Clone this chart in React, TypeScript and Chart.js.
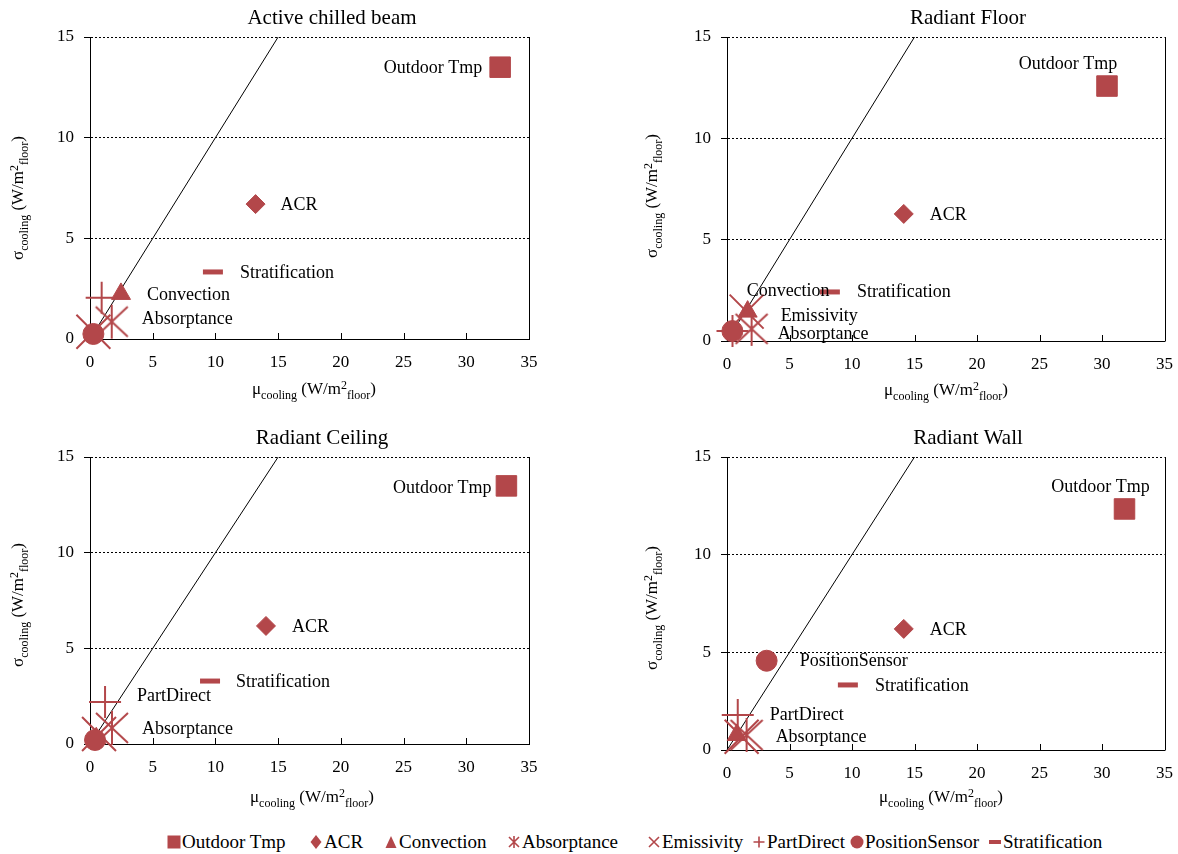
import React, { useEffect, useRef } from 'react';
import { Chart, registerables } from 'chart.js';

Chart.register(...registerables);

// ---------------- DATA ----------------
const seriesNames = ['Outdoor Tmp', 'ACR', 'Convection', 'Absorptance', 'Emissivity', 'PartDirect', 'PositionSensor', 'Stratification'];
const panelTitles = ['Active chilled beam', 'Radiant Floor', 'Radiant Ceiling', 'Radiant Wall'];

// mu_cooling (x) and sigma_cooling (y), in the order of seriesNames
const muActiveBeam = [32.7, 13.2, 2.47, 1.73, 0.27, 0.93, 0.27, 9.8];
const sigmaActiveBeam = [13.5, 6.7, 2.24, 0.86, 0.36, 2.05, 0.25, 3.33];

const muRadiantFloor = [30.4, 14.14, 1.65, 1.97, 1.57, 0.44, 0.43, 8.23];
const sigmaRadiantFloor = [12.58, 6.27, 1.45, 0.6, 1.45, 0.49, 0.49, 2.42];

const muRadiantCeiling = [33.2, 14.03, 0.5, 1.75, 0.72, 1.2, 0.4, 9.57];
const sigmaRadiantCeiling = [13.49, 6.17, 0.3, 0.84, 0.52, 2.2, 0.21, 3.29];

const muRadiantWall = [31.8, 14.14, 0.78, 1.57, 1.17, 0.86, 3.17, 9.67];
const sigmaRadiantWall = [12.34, 6.2, 0.77, 0.77, 0.68, 1.79, 4.57, 3.33];

// reference line sigma = mu
const refLineMu = [0, 15];
const refLineSigma = [0, 15];

const xAxisMin = 0;
const xAxisMax = 35;
const xAxisStep = 5;
const yAxisMin = 0;
const yAxisMax = 15;
const yAxisStep = 5;

// ---------------- STYLE ----------------
const MARKER = '#B3474A';
const FONT = '"Liberation Serif", "Times New Roman", serif';

type LabelSpec = { series: string; dx: number; dy: number; align: CanvasTextAlign };

const labelsActiveBeam: LabelSpec[] = [
  { series: 'Outdoor Tmp', dx: -18, dy: 1, align: 'right' },
  { series: 'ACR', dx: 25, dy: 1, align: 'left' },
  { series: 'Stratification', dx: 27, dy: 1, align: 'left' },
  { series: 'Convection', dx: 26, dy: 1, align: 'left' },
  { series: 'Absorptance', dx: 30, dy: -2, align: 'left' },
];
const labelsRadiantFloor: LabelSpec[] = [
  { series: 'Outdoor Tmp', dx: -39, dy: -22, align: 'center' },
  { series: 'ACR', dx: 26, dy: 1, align: 'left' },
  { series: 'Stratification', dx: 27, dy: 0, align: 'left' },
  { series: 'Convection', dx: -1, dy: -20, align: 'left' },
  { series: 'Emissivity', dx: 34, dy: 5, align: 'left' },
  { series: 'Absorptance', dx: 26, dy: 5, align: 'left' },
];
const labelsRadiantCeiling: LabelSpec[] = [
  { series: 'Outdoor Tmp', dx: -15, dy: 2, align: 'right' },
  { series: 'ACR', dx: 26, dy: 1, align: 'left' },
  { series: 'Stratification', dx: 26, dy: 1, align: 'left' },
  { series: 'PartDirect', dx: 32, dy: -6, align: 'left' },
  { series: 'Absorptance', dx: 30, dy: 1, align: 'left' },
];
const labelsRadiantWall: LabelSpec[] = [
  { series: 'Outdoor Tmp', dx: -24, dy: -22, align: 'center' },
  { series: 'ACR', dx: 26, dy: 1, align: 'left' },
  { series: 'PositionSensor', dx: 33, dy: 1, align: 'left' },
  { series: 'Stratification', dx: 27, dy: 1, align: 'left' },
  { series: 'PartDirect', dx: 32, dy: 0, align: 'left' },
  { series: 'Absorptance', dx: 29, dy: 2, align: 'left' },
];

type Panel = {
  title: string;
  mu: number[];
  sigma: number[];
  labels: LabelSpec[];
  box: { left: number; top: number; width: number; height: number };
  area: { l: number; r: number; t: number; b: number };
  titlePos: { x: number; y: number };
  xTitlePos: { x: number; y: number };
  yTitlePos: { x: number; y: number };
};

const panels: Panel[] = [
  {
    title: panelTitles[0], mu: muActiveBeam, sigma: sigmaActiveBeam, labels: labelsActiveBeam,
    box: { left: 0, top: 0, width: 589, height: 420 },
    area: { l: 90, r: 529, t: 37, b: 339 },
    titlePos: { x: 332, y: 18 }, xTitlePos: { x: 314, y: 394 }, yTitlePos: { x: 23, y: 198 },
  },
  {
    title: panelTitles[1], mu: muRadiantFloor, sigma: sigmaRadiantFloor, labels: labelsRadiantFloor,
    box: { left: 589, top: 0, width: 589, height: 420 },
    area: { l: 727, r: 1165, t: 37, b: 341 },
    titlePos: { x: 968, y: 18 }, xTitlePos: { x: 946, y: 395 }, yTitlePos: { x: 657, y: 196 },
  },
  {
    title: panelTitles[2], mu: muRadiantCeiling, sigma: sigmaRadiantCeiling, labels: labelsRadiantCeiling,
    box: { left: 0, top: 420, width: 589, height: 400 },
    area: { l: 90, r: 529, t: 457, b: 744 },
    titlePos: { x: 322, y: 438 }, xTitlePos: { x: 312, y: 802 }, yTitlePos: { x: 23, y: 605 },
  },
  {
    title: panelTitles[3], mu: muRadiantWall, sigma: sigmaRadiantWall, labels: labelsRadiantWall,
    box: { left: 589, top: 420, width: 589, height: 400 },
    area: { l: 727, r: 1165, t: 457, b: 750 },
    titlePos: { x: 968, y: 438 }, xTitlePos: { x: 941, y: 802 }, yTitlePos: { x: 657, y: 608 },
  },
];

const legendX = [167, 309, 384, 507, 647, 752, 850, 988];

function makeAbsorptanceCanvas(color: string) {
  const c = document.createElement('canvas');
  c.width = 36;
  c.height = 36;
  const g = c.getContext('2d')!;
  g.strokeStyle = color;
  g.lineWidth = 2;
  g.beginPath();
  g.moveTo(2, 3);
  g.lineTo(34, 33);
  g.moveTo(34, 3);
  g.lineTo(2, 33);
  g.moveTo(18, 1);
  g.lineTo(18, 35);
  g.stroke();
  return c;
}

type MarkerStyle = { pointStyle: any; radius: number; borderWidth: number };
function markerStyles(): MarkerStyle[] {
  return [
    { pointStyle: 'rect', radius: 14.5, borderWidth: 1 },
    { pointStyle: 'rectRot', radius: 9.5, borderWidth: 1 },
    { pointStyle: 'triangle', radius: 11, borderWidth: 1 },
    { pointStyle: makeAbsorptanceCanvas(MARKER), radius: 18, borderWidth: 2 },
    { pointStyle: 'crossRot', radius: 24, borderWidth: 2 },
    { pointStyle: 'cross', radius: 16, borderWidth: 2 },
    { pointStyle: 'circle', radius: 10.5, borderWidth: 1 },
    { pointStyle: 'line', radius: 10, borderWidth: 5 },
  ];
}

type Part = { t: string; size: number; dy: number };
const titleParts = (sym: string): Part[] => [
  { t: sym, size: 17, dy: 0 },
  { t: 'cooling', size: 12, dy: 4.5 },
  { t: ' (W/m', size: 17, dy: 0 },
  { t: '2', size: 12, dy: -5 },
  { t: 'floor', size: 12, dy: 4.5 },
  { t: ')', size: 17, dy: 0 },
];

function drawRich(ctx: CanvasRenderingContext2D, parts: Part[], cx: number, cy: number, rotate: boolean) {
  ctx.save();
  ctx.translate(cx, cy);
  if (rotate) ctx.rotate(-Math.PI / 2);
  ctx.fillStyle = '#000';
  ctx.textBaseline = 'alphabetic';
  ctx.textAlign = 'left';
  let total = 0;
  const widths = parts.map((p) => {
    ctx.font = `${p.size}px ${FONT}`;
    const w = ctx.measureText(p.t).width;
    total += w;
    return w;
  });
  let x = -total / 2;
  parts.forEach((p, i) => {
    ctx.font = `${p.size}px ${FONT}`;
    ctx.fillText(p.t, x, p.dy);
    x += widths[i];
  });
  ctx.restore();
}

function PanelChart({ cfg }: { cfg: Panel }) {
  const ref = useRef<HTMLCanvasElement | null>(null);
  useEffect(() => {
    if (!ref.current) return;
    const { box, area } = cfg;
    const yWidth = area.l - box.left;
    const rightPad = box.left + box.width - area.r;
    const topPad = area.t - box.top;
    const xHeight = box.top + box.height - area.b;
    const styles = markerStyles();

    const datasets: any[] = seriesNames.map((name, i) => ({
      label: name,
      data: [{ x: cfg.mu[i], y: cfg.sigma[i] }],
      pointStyle: styles[i].pointStyle,
      pointRadius: styles[i].radius,
      pointBorderWidth: styles[i].borderWidth,
      pointBackgroundColor: MARKER,
      pointBorderColor: MARKER,
      showLine: false,
      clip: false,
      order: seriesNames.length - i,
    }));
    datasets.push({
      label: 'reference',
      data: refLineMu.map((m, i) => ({ x: m, y: refLineSigma[i] })),
      showLine: true,
      borderColor: '#000',
      borderWidth: 1,
      pointRadius: 0,
      clip: false,
      order: 100,
    });

    const overlay = {
      id: 'overlay',
      afterDraw(chart: any) {
        const ctx: CanvasRenderingContext2D = chart.ctx;
        const ca = chart.chartArea;
        const xs = chart.scales.x;
        ctx.save();
        // right border
        ctx.strokeStyle = '#000';
        ctx.lineWidth = 1;
        ctx.beginPath();
        const rx = Math.round(ca.right) + 0.5;
        ctx.moveTo(rx, ca.top);
        ctx.lineTo(rx, ca.bottom + 0.5);
        ctx.stroke();
        // inside x ticks
        ctx.beginPath();
        for (let v = xAxisMin + xAxisStep; v < xAxisMax; v += xAxisStep) {
          const px = Math.round(xs.getPixelForValue(v)) + 0.5;
          ctx.moveTo(px, ca.bottom);
          ctx.lineTo(px, ca.bottom - 6);
        }
        ctx.stroke();
        // title
        ctx.fillStyle = '#000';
        ctx.font = `21px ${FONT}`;
        ctx.textAlign = 'center';
        ctx.textBaseline = 'middle';
        ctx.fillText(cfg.title, cfg.titlePos.x - box.left, cfg.titlePos.y - box.top);
        // data labels
        ctx.font = `18px ${FONT}`;
        cfg.labels.forEach((lab) => {
          const di = seriesNames.indexOf(lab.series);
          const el = chart.getDatasetMeta(di).data[0];
          if (!el) return;
          ctx.textAlign = lab.align;
          ctx.textBaseline = 'middle';
          ctx.fillText(lab.series, el.x + lab.dx, el.y + lab.dy);
        });
        ctx.restore();
        // axis titles
        drawRich(ctx, titleParts('μ'), cfg.xTitlePos.x - box.left, cfg.xTitlePos.y - box.top, false);
        drawRich(ctx, titleParts('σ'), cfg.yTitlePos.x - box.left, cfg.yTitlePos.y - box.top, true);
      },
    };

    const chart = new Chart(ref.current, {
      type: 'scatter',
      data: { datasets },
      options: {
        animation: false,
        responsive: false,
        events: [],
        layout: { padding: { left: 0, right: rightPad, top: topPad, bottom: 0 }, autoPadding: false },
        plugins: { legend: { display: false }, tooltip: { enabled: false }, title: { display: false } },
        scales: {
          x: {
            type: 'linear',
            min: xAxisMin,
            max: xAxisMax,
            ticks: { stepSize: xAxisStep, padding: 5, color: '#000', font: { family: FONT, size: 17 }, maxRotation: 0, autoSkip: false },
            grid: { display: false },
            border: { display: true, color: '#000', width: 1 },
            afterFit: (s: any) => { s.height = xHeight; },
          },
          y: {
            type: 'linear',
            min: yAxisMin,
            max: yAxisMax,
            ticks: { stepSize: yAxisStep, padding: 10, color: '#000', font: { family: FONT, size: 17 } },
            grid: {
              color: (c: any) => (c.tick && c.tick.value === 0 ? 'rgba(0,0,0,0)' : '#000'),
              tickColor: '#000',
              tickLength: 6,
              lineWidth: 1,
            },
            border: { display: true, color: '#000', width: 1, dash: [2, 2] },
            afterFit: (s: any) => { s.width = yWidth; },
          },
        },
      } as any,
      plugins: [overlay],
    });
    return () => chart.destroy();
  }, [cfg]);

  return (
    <canvas
      ref={ref}
      width={cfg.box.width}
      height={cfg.box.height}
      style={{ position: 'absolute', left: cfg.box.left, top: cfg.box.top, width: cfg.box.width, height: cfg.box.height }}
    />
  );
}

function LegendGlyph({ index }: { index: number }) {
  const c = MARKER;
  const common = { width: 14, height: 14, viewBox: '0 0 14 14', style: { display: 'block' } as React.CSSProperties };
  switch (index) {
    case 0:
      return <svg {...common}><rect x="0.5" y="0.5" width="13" height="13" fill={c} /></svg>;
    case 1:
      return <svg {...common}><polygon points="7,0 12.5,7 7,14 1.5,7" fill={c} /></svg>;
    case 2:
      return <svg {...common}><polygon points="7,1 12.5,13 1.5,13" fill={c} /></svg>;
    case 3:
      return <svg {...common}><path d="M2 2 L12 12 M12 2 L2 12 M7 1 L7 13" stroke={c} strokeWidth="1.6" fill="none" /></svg>;
    case 4:
      return <svg {...common}><path d="M2 2 L12 12 M12 2 L2 12" stroke={c} strokeWidth="1.6" fill="none" /></svg>;
    case 5:
      return <svg {...common}><path d="M1.5 7 L12.5 7 M7 1.5 L7 12.5" stroke={c} strokeWidth="1.6" fill="none" /></svg>;
    case 6:
      return <svg {...common}><circle cx="7" cy="7" r="6.5" fill={c} /></svg>;
    default:
      return <svg {...common}><rect x="1" y="5" width="12" height="4" fill={c} /></svg>;
  }
}

export default function App() {
  return (
    <div style={{ position: 'absolute', left: 0, top: 0, width: 1178, height: 854, background: '#fff', overflow: 'hidden' }}>
      {panels.map((p) => (
        <PanelChart key={p.title} cfg={p} />
      ))}
      {seriesNames.map((name, i) => (
        <div
          key={name}
          style={{
            position: 'absolute',
            left: legendX[i],
            top: 830,
            height: 24,
            display: 'flex',
            alignItems: 'center',
            fontFamily: FONT,
            fontSize: 19,
            color: '#000',
            whiteSpace: 'nowrap',
          }}
        >
          <LegendGlyph index={i} />
          <span style={{ marginLeft: 1 }}>{name}</span>
        </div>
      ))}
    </div>
  );
}
